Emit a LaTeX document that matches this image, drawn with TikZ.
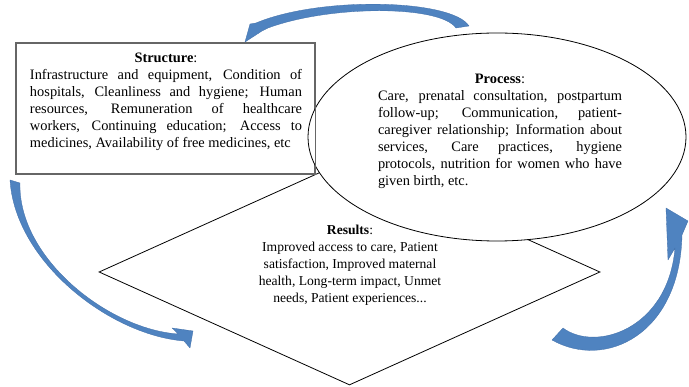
\documentclass[tikz,border=0pt]{standalone}
\usepackage{fontspec}
\setmainfont{Liberation Serif}
\usetikzlibrary{shapes.geometric}

\definecolor{arrowblue}{RGB}{79,131,192}
\definecolor{arrowedge}{RGB}{64,110,168}

\tikzset{
  flowarrow/.style={fill=arrowblue, draw=arrowedge, line width=0.3pt, line join=round},
  boxtext/.style={font=\fontsize{14.4}{17}\selectfont, align=justify, inner sep=0pt,
    execute at begin node={\tolerance=10000\relax\hbadness=10000\relax}},
  frameline/.style={draw=black!60, line width=1.4pt},
}

\begin{document}
\begin{tikzpicture}[x=1pt, y=-1pt]
  \useasboundingbox (0,0) rectangle (689,387);

  % results diamond sits behind the box and the ellipse
  \node[diamond, draw, line width=0.8pt, minimum width=501pt, minimum height=226pt, inner sep=0pt] (results) at (349.5,272) {};
  \node[rectangle, frameline, fill=white, minimum width=299pt, minimum height=131pt, inner sep=0pt] (structure) at (165.5,108.5) {};
  \node[ellipse, draw, fill=white, line width=0.8pt, minimum width=378pt, minimum height=208pt, inner sep=0pt] (process) at (497,137) {};
  % right side of the box stays visible over the ellipse
  \draw[frameline] (structure.north east) -- (structure.south east);

  \node[boxtext, text width=272pt] (structtext) at (166,102) {\makebox[\hsize]{\textbf{Structure}:}\linebreak
    Infrastructure and equipment, Condition of\linebreak
    hospitals, Cleanliness and hygiene; Human\linebreak
    resources, Remuneration of healthcare\linebreak
    workers, Continuing education; Access to\linebreak
    medicines, Availability of free medicines, etc};

  \node[boxtext, text width=244pt] (proctext) at (500,131) {\makebox[\hsize]{\textbf{Process}:}\linebreak
    Care, prenatal consultation, postpartum\linebreak
    follow-up; Communication, patient-\linebreak
    caregiver relationship; Information about\linebreak
    services, Care practices, hygiene\linebreak
    protocols, nutrition for women who have\linebreak
    given birth, etc.};

  \node[font=\fontsize{13.6}{17}\selectfont, align=center, inner sep=0pt] (restext) at (350,265) {\textbf{Results}:\\
    Improved access to care, Patient\\
    satisfaction, Improved maternal\\
    health, Long-term impact, Unmet\\
    needs, Patient experiences...};

  % curved block arrows round the cycle
  \draw[flowarrow] (469,26) .. controls (452,-1) and (320,-4) .. (256,23) -- (250,24) -- (245,42) -- (262,31) -- (268,28) .. controls (330,5) and (440,5) .. (456,28) -- cycle;
  \draw[flowarrow] (10,180) .. controls (15,262) and (110,335) .. (184,341) -- (190,348) -- (193,331) -- (172,328) -- (178,334) .. controls (108,329) and (18,258) .. (20,183) -- cycle;
  \draw[flowarrow] (552,340) .. controls (605,370) and (680,335) .. (682,235) -- (688,221) -- (666,208) -- (668,260) -- (675,248) .. controls (668,330) and (595,352) .. (563,328) -- cycle;
\end{tikzpicture}
\end{document}
